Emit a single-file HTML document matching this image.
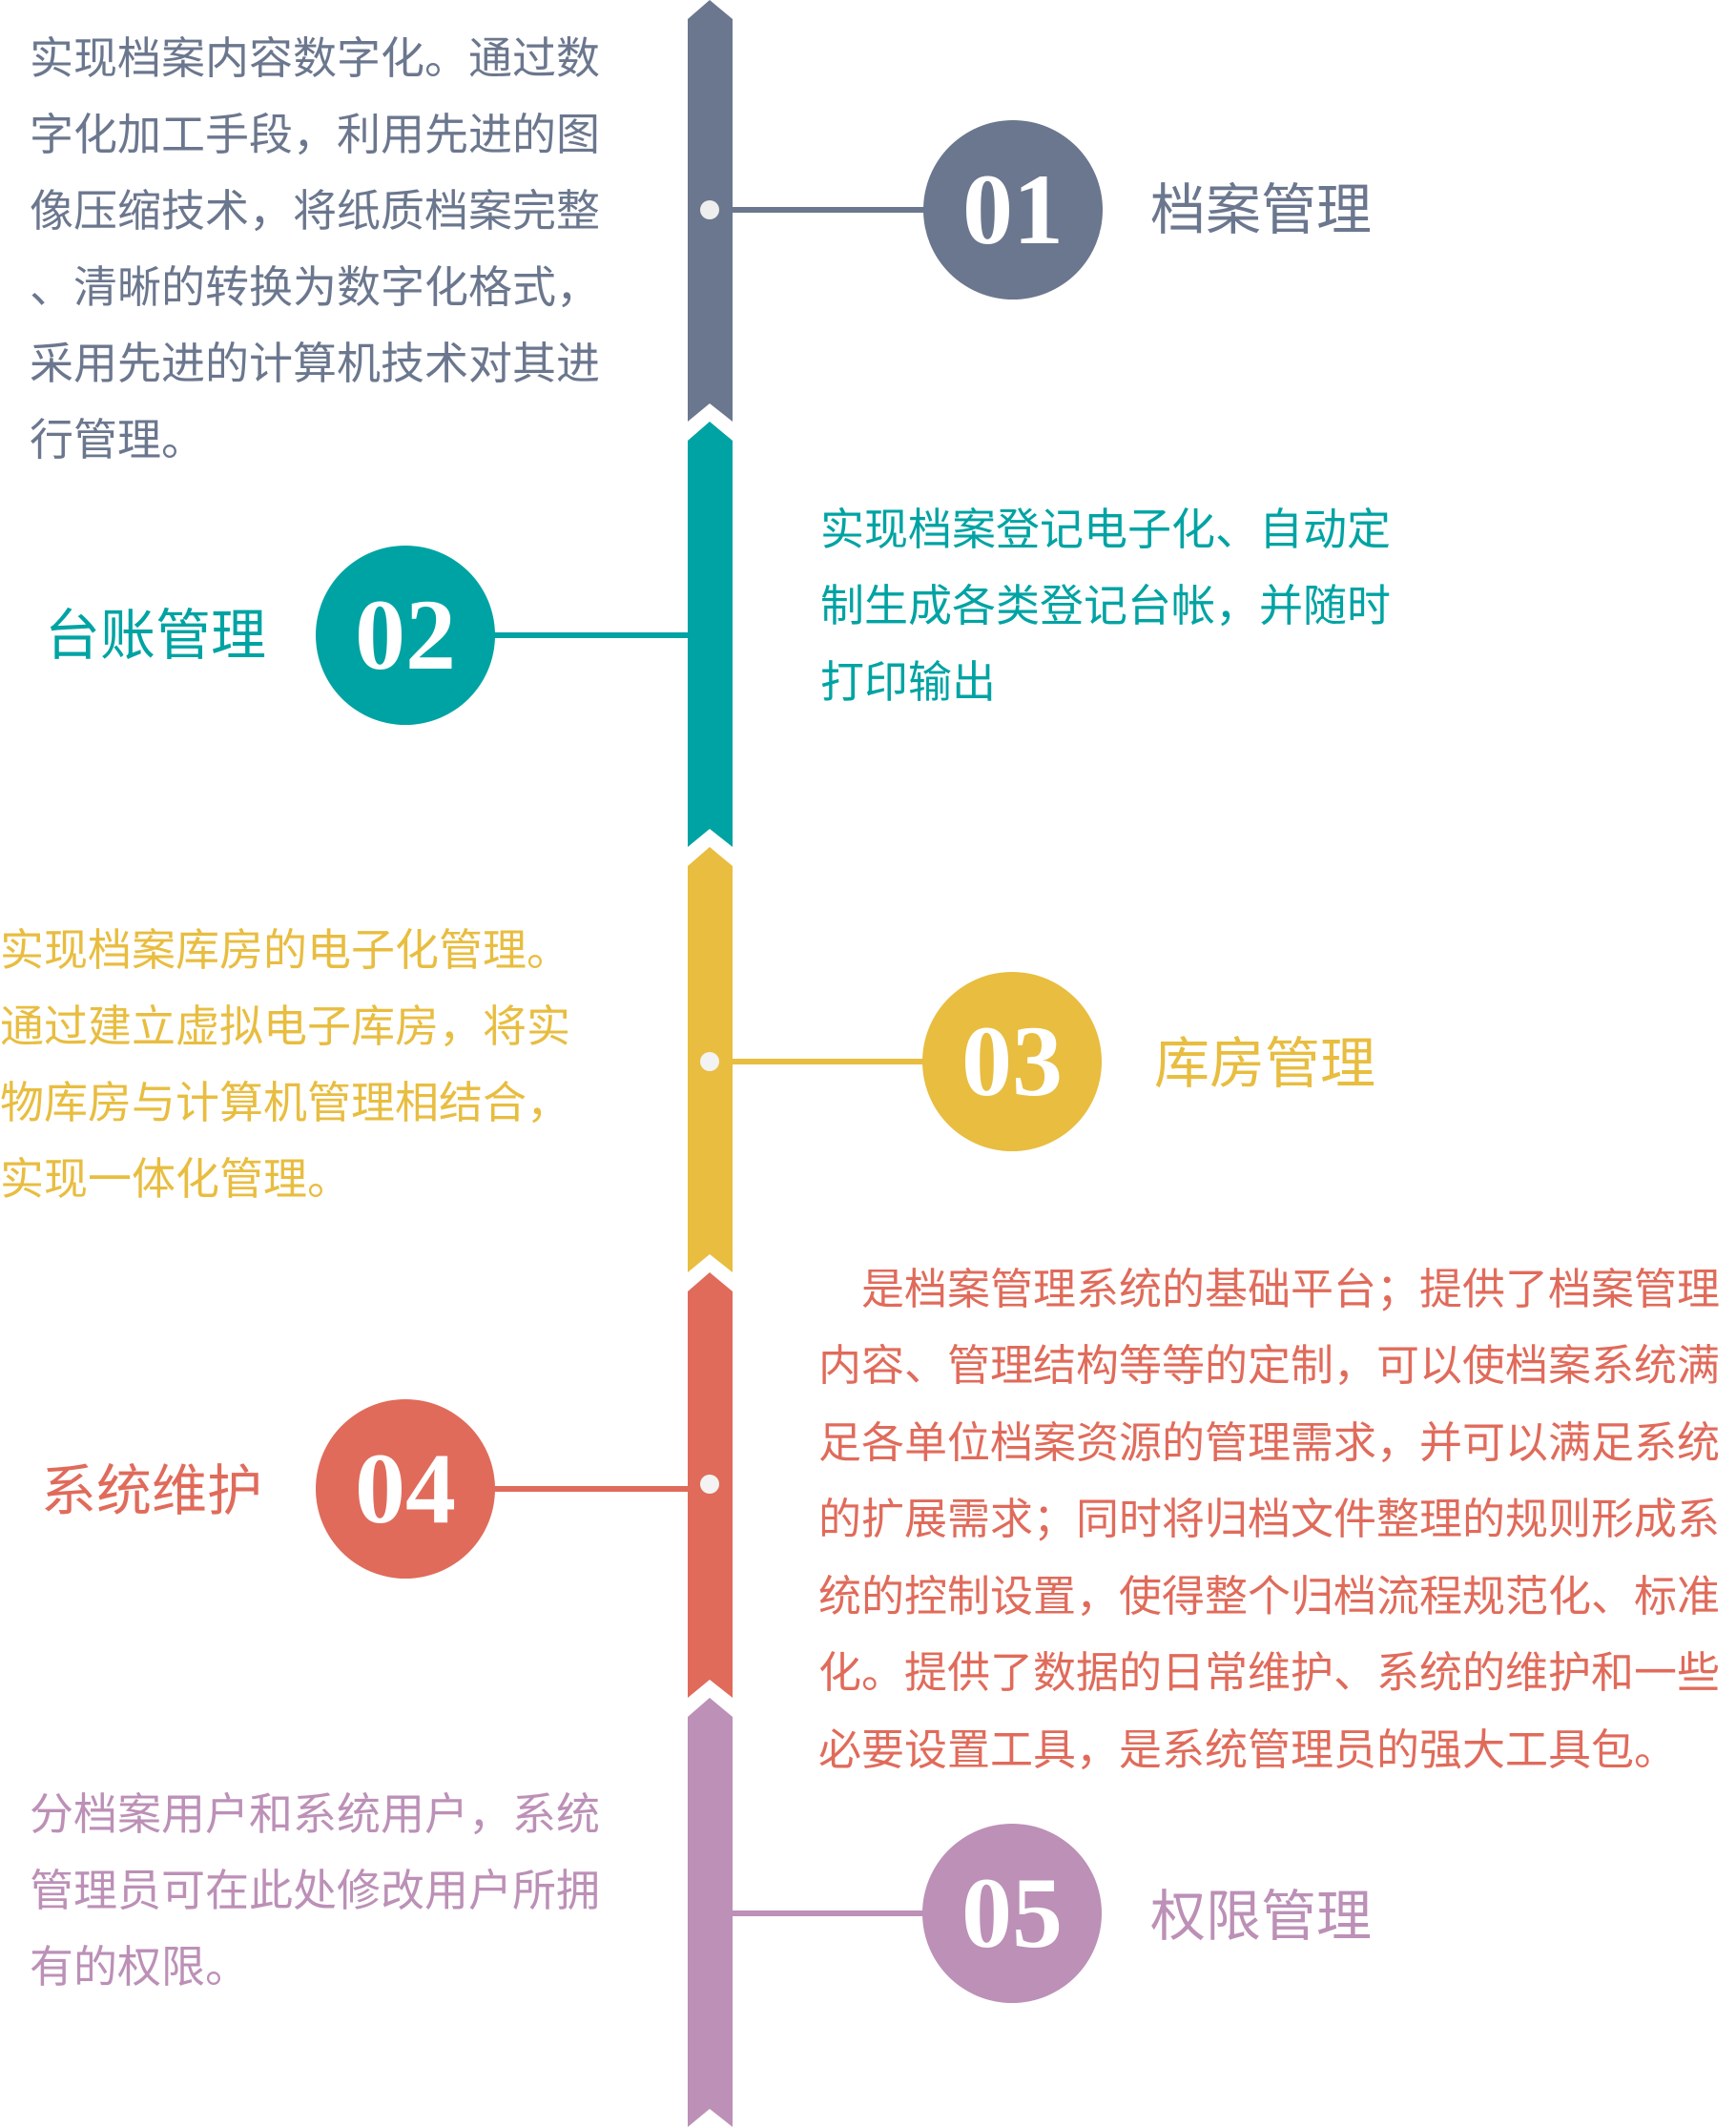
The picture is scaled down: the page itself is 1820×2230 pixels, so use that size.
<!DOCTYPE html>
<html><head><meta charset="utf-8"><style>
html,body{margin:0;padding:0;background:#fff;}
body{width:1820px;height:2230px;position:relative;overflow:hidden;font-family:"Liberation Sans","Noto Sans CJK SC",sans-serif;}
.t{position:absolute;font-size:46px;white-space:nowrap;line-height:60px;}
.l{position:absolute;font-size:58px;white-space:nowrap;line-height:70px;}
.n{position:absolute;width:188px;height:188px;border-radius:50%;color:#fff;font-family:"Liberation Serif",serif;font-weight:bold;font-size:106px;line-height:188px;text-align:center;}
.g{color:#6b778e}.c{color:#00a3a3}.y{color:#e8bd40}.r{color:#e06b5b;font-size:45px}.p{color:#bc90b7}
</style></head><body>
<svg width="1820" height="2230" style="position:absolute;left:0;top:0">
<polygon points="721,20 744,0 768,20 768,442 744,423 721,442" fill="#6b778e"/>
<polygon points="721,462 744,442 768,462 768,888 744,869 721,888" fill="#00a3a3"/>
<polygon points="721,908 744,888 768,908 768,1334 744,1315 721,1334" fill="#e8bd40"/>
<polygon points="721,1354 744,1334 768,1354 768,1780 744,1761 721,1780" fill="#e06b5b"/>
<polygon points="721,1800 744,1780 768,1800 768,2230 744,2211 721,2230" fill="#bc90b7"/>
<rect x="768" y="217" width="210" height="6" fill="#6b778e"/>
<rect x="510" y="663" width="211" height="6" fill="#00a3a3"/>
<rect x="768" y="1110" width="210" height="6" fill="#e8bd40"/>
<rect x="510" y="1558" width="211" height="6" fill="#e06b5b"/>
<rect x="768" y="2003" width="210" height="6" fill="#bc90b7"/>
<circle cx="744" cy="220" r="10" fill="#eeeeee"/>
<circle cx="744" cy="1113" r="10" fill="#f3f3f3"/>
<circle cx="744" cy="1556" r="10" fill="#f3f3f3"/>
</svg>
<div class="n" style="left:968px;top:126px;background:#6b778e">01</div>
<div class="n" style="left:331px;top:572px;background:#00a3a3">02</div>
<div class="n" style="left:967px;top:1019px;background:#e8bd40">03</div>
<div class="n" style="left:331px;top:1467px;background:#e06b5b">04</div>
<div class="n" style="left:967px;top:1912px;background:#bc90b7">05</div>

<div class="l g" style="left:1206px;top:186px">档案管理</div>
<div class="l c" style="left:47px;top:632px">台账管理</div>
<div class="l y" style="left:1210px;top:1081px">库房管理</div>
<div class="l r" style="left:43px;top:1529px;font-size:58px">系统维护</div>
<div class="l p" style="left:1206px;top:1975px">权限管理</div>

<div class="t g" style="left:31px;top:31px">实现档案内容数字化。通过数</div>
<div class="t g" style="left:31px;top:111px">字化加工手段，利用先进的图</div>
<div class="t g" style="left:31px;top:191px">像压缩技术，将纸质档案完整</div>
<div class="t g" style="left:31px;top:271px">、清晰的转换为数字化格式，</div>
<div class="t g" style="left:31px;top:351px">采用先进的计算机技术对其进</div>
<div class="t g" style="left:31px;top:431px">行管理。</div>

<div class="t c" style="left:860px;top:525px">实现档案登记电子化、自动定</div>
<div class="t c" style="left:860px;top:605px">制生成各类登记台帐，并随时</div>
<div class="t c" style="left:860px;top:685px">打印输出</div>

<div class="t y" style="left:0px;top:966px">实现档案库房的电子化管理。</div>
<div class="t y" style="left:0px;top:1046px">通过建立虚拟电子库房，将实</div>
<div class="t y" style="left:0px;top:1126px">物库房与计算机管理相结合，</div>
<div class="t y" style="left:0px;top:1206px">实现一体化管理。</div>

<div class="t r" style="left:858px;top:1322px">　是档案管理系统的基础平台；提供了档案管理</div>
<div class="t r" style="left:858px;top:1402px">内容、管理结构等等的定制，可以使档案系统满</div>
<div class="t r" style="left:858px;top:1483px">足各单位档案资源的管理需求，并可以满足系统</div>
<div class="t r" style="left:858px;top:1563px">的扩展需求；同时将归档文件整理的规则形成系</div>
<div class="t r" style="left:858px;top:1644px">统的控制设置，使得整个归档流程规范化、标准</div>
<div class="t r" style="left:858px;top:1724px">化。提供了数据的日常维护、系统的维护和一些</div>
<div class="t r" style="left:858px;top:1805px">必要设置工具，是系统管理员的强大工具包。</div>

<div class="t p" style="left:31px;top:1872px">分档案用户和系统用户，系统</div>
<div class="t p" style="left:31px;top:1952px">管理员可在此处修改用户所拥</div>
<div class="t p" style="left:31px;top:2032px">有的权限。</div>
</body></html>
